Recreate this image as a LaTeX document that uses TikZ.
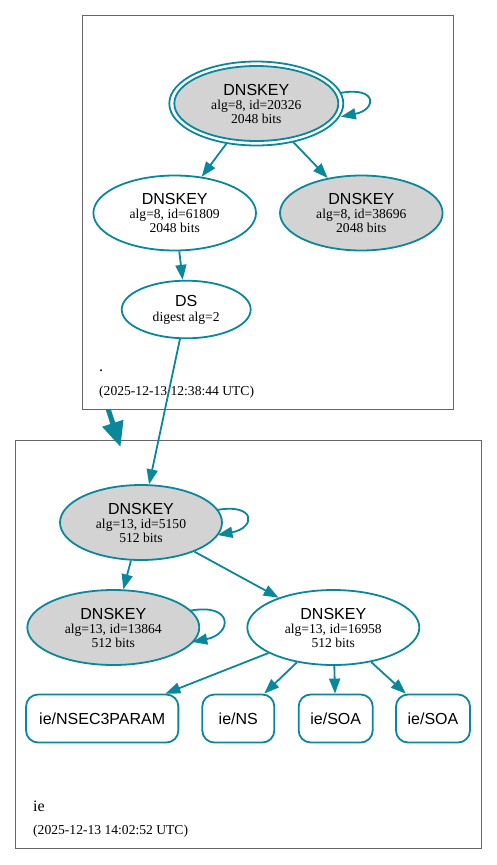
\documentclass[tikz,border=0pt]{standalone}
\usepackage{fontspec}
\setmainfont{Liberation Serif}
\setsansfont{Liberation Sans}
\usetikzlibrary{shapes.geometric,arrows.meta}
\definecolor{edgec}{HTML}{0A879A}
\definecolor{keyfill}{HTML}{D3D3D3}
\definecolor{clus}{HTML}{666666}
\newcommand{\dkhead}{{\sffamily\fontsize{16}{14}\selectfont DNSKEY}}
\begin{document}
\begin{tikzpicture}[x=1pt,y=-1pt,
  key/.style={ellipse, draw=edgec, line width=1.8pt, fill=white, inner sep=0pt, align=center,
    font=\fontsize{13.6}{14}\selectfont},
  keyg/.style={key, fill=keyfill},
  rr/.style={rectangle, rounded corners=12pt, draw=edgec, line width=1.8pt, fill=white,
    minimum height=48pt, inner sep=0pt, font=\sffamily\fontsize{16}{16}\selectfont},
  edge/.style={draw=edgec, line width=1.8pt, -{Triangle[length=15pt,width=11pt]}},
  clusterbox/.style={draw=clus, line width=1pt},
  clabel/.style={anchor=base west, inner sep=0pt, font=\fontsize{16}{16}\selectfont},
  cdate/.style={anchor=base west, inner sep=0pt, font=\fontsize{13.6}{14}\selectfont}]
\useasboundingbox (0,0) rectangle (497,865);

% clusters
\draw[clusterbox] (82.7,15.7) rectangle (453.3,409);
\draw[clusterbox] (15.7,440.3) rectangle (481.7,848);
\node[clabel] (lroot) at (99,371) {.};
\node[cdate] (droot) at (99,395) {(2025-12-13 12:38:44 UTC)};
\node[clabel] (lie) at (33,811) {ie};
\node[cdate] (die) at (33,834) {(2025-12-13 14:02:52 UTC)};

% root zone
\node[keyg, minimum width=164pt, minimum height=75pt, outer sep=5pt] (k20326) at (256.3,103.5)
  {\dkhead\\alg=8, id=20326\\2048 bits};
\draw[edgec, line width=1.8pt] (k20326.center) ellipse [x radius=87pt, y radius=42pt];
\node[key, minimum width=162.6pt, minimum height=75pt] (k61809) at (174.7,213)
  {\dkhead\\alg=8, id=61809\\2048 bits};
\node[keyg, minimum width=162.6pt, minimum height=75pt] (k38696) at (361.3,213)
  {\dkhead\\alg=8, id=38696\\2048 bits};
\node[key, minimum width=129pt, minimum height=57.6pt] (ds) at (186.2,309.5)
  {{\sffamily\fontsize{16}{14}\selectfont DS}\\[1pt]digest alg=2};

% ie zone
\node[keyg, minimum width=162pt, minimum height=75pt] (k5150) at (141,522.5)
  {\dkhead\\alg=13, id=5150\\512 bits};
\node[keyg, minimum width=172pt, minimum height=75pt] (k13864) at (113.3,627.5)
  {\dkhead\\alg=13, id=13864\\512 bits};
\node[key, minimum width=172pt, minimum height=75pt] (k16958) at (333.3,627.5)
  {\dkhead\\alg=13, id=16958\\512 bits};

\node[rr, minimum width=152.3pt] (nsec) at (102.2,718.5) {ie/NSEC3PARAM};
\node[rr, minimum width=72pt] (ns) at (238.3,718.5) {ie/NS};
\node[rr, minimum width=74pt] (soa1) at (335.7,718.5) {ie/SOA};
\node[rr, minimum width=74pt] (soa2) at (433,718.5) {ie/SOA};

% edges
\draw[edge] (k20326) -- (k61809);
\draw[edge] (k20326) -- (k38696);
\draw[edge] (k61809) -- (ds);
\draw[edge] (ds) -- (k5150);
\draw[edge] (k5150) -- (k13864);
\draw[edge] (k5150) -- (k16958);
\draw[edge] (k16958) -- (nsec);
\draw[edge] (k16958) -- (ns);
\draw[edge] (k16958) -- (soa1);
\draw[edge] (k16958) -- (soa2);

% self loops
\draw[edge] ([shift={(83.7,-10.5)}]k20326.center) .. controls +(38,-7) and +(36,-7) .. ([shift={(84.5,13.2)}]k20326.center);
\draw[edge] ([shift={(75.7,-12.5)}]k5150.center) .. controls +(40,-7) and +(38,-7) .. ([shift={(76.5,12.5)}]k5150.center);
\draw[edge] ([shift={(76.7,-16.8)}]k13864.center) .. controls +(44,-8) and +(40,-8) .. ([shift={(79,14.5)}]k13864.center);

% zone delegation arrow
\coordinate (b1) at (108.3,409.5);
\coordinate (b2) at (120.5,447);
\draw[edgec, line width=5pt, -{Triangle[length=25pt,width=21pt]}] (b1) -- (b2);
\end{tikzpicture}
\end{document}
